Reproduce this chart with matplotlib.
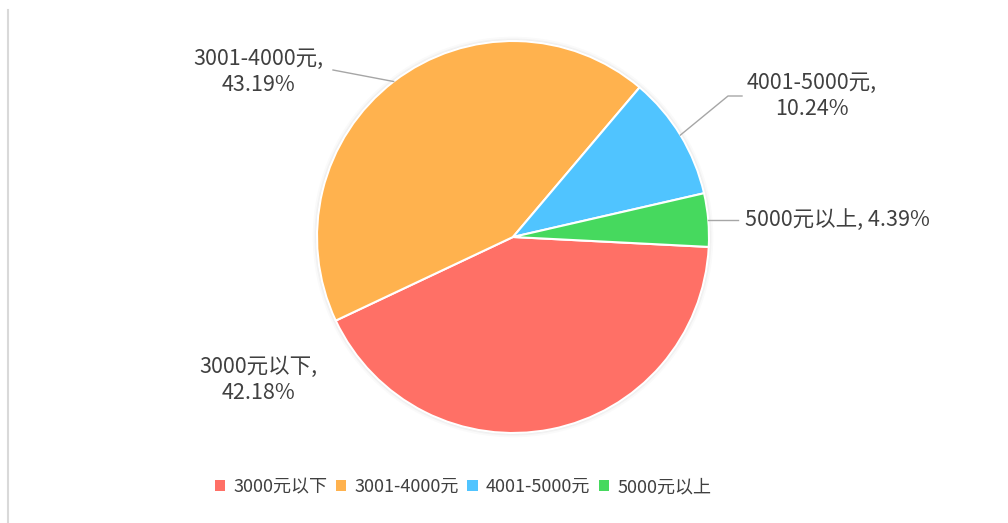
import numpy as np
import matplotlib
matplotlib.use("Agg")
import matplotlib.pyplot as plt
from matplotlib.patches import Patch, Circle
from matplotlib.lines import Line2D

plt.rcParams['font.family'] = ['Noto Sans CJK SC', 'DejaVu Sans']

categories = ['3000元以下', '3001-4000元', '4001-5000元', '5000元以上']
values = [42.18, 43.19, 10.24, 4.39]
colors = ['#FF7066', '#FFB24E', '#50C4FF', '#46D95E']
text_color = '#404040'

W, H = 1008, 523
fig = plt.figure(figsize=(W / 100, H / 100), dpi=100)
fig.patch.set_facecolor('white')

cx, cy, R = 513, 237, 196
ax = fig.add_axes([(cx - R) / W, (H - cy - R) / H, 2 * R / W, 2 * R / H])

wedges, _ = ax.pie(values, colors=colors, startangle=-2.9, counterclock=False,
                   radius=1, wedgeprops=dict(edgecolor='white', linewidth=1.5),
                   normalize=True)
ax.set_xlim(-1, 1)
ax.set_ylim(-1, 1)
ax.set_aspect('equal')
ax.axis('off')
for w in wedges:
    w.set_zorder(1)

# soft shadow
for r, a in [(1.022, 0.04), (1.013, 0.06), (1.006, 0.10)]:
    ax.add_patch(Circle((0, 0), r, facecolor='#808080', alpha=a, edgecolor='none',
                        zorder=0, clip_on=False))

def px(x, y):
    return ((x - cx) / R, (cy - y) / R)

def mid_point(w, r=1.0):
    ang = np.deg2rad((w.theta1 + w.theta2) / 2)
    return r * np.cos(ang), r * np.sin(ang)

lc = '#A6A6A6'
fs = 15.5
# 3001-4000
p0 = mid_point(wedges[1])
p1 = px(333, 70)
ax.plot([p0[0], p1[0]], [p0[1], p1[1]], color=lc, lw=1, clip_on=False)
ax.text(*px(258, 72), f'{categories[1]},\n{values[1]:.2f}%', ha='center', va='center',
        fontsize=fs, color=text_color, linespacing=1.2, clip_on=False)
# 4001-5000
p0 = mid_point(wedges[2])
p1 = px(728, 96)
p2 = px(742, 96)
ax.plot([p0[0], p1[0], p2[0]], [p0[1], p1[1], p2[1]], color=lc, lw=1, clip_on=False)
ax.text(*px(812, 96), f'{categories[2]},\n{values[2]:.2f}%', ha='center', va='center',
        fontsize=fs, color=text_color, linespacing=1.2, clip_on=False)
# 5000以上
p0 = mid_point(wedges[3])
p1 = px(738, 0)
ax.plot([p0[0], p1[0]], [p0[1], p0[1]], color=lc, lw=1, clip_on=False)
ax.text(px(745, 0)[0], p0[1], f'{categories[3]}, {values[3]:.2f}%', ha='left', va='center',
        fontsize=fs, color=text_color, clip_on=False)
# 3000以下
ax.text(*px(258, 380), f'{categories[0]},\n{values[0]:.2f}%', ha='center', va='center',
        fontsize=fs, color=text_color, linespacing=1.2, clip_on=False)

handles = [Patch(facecolor=c, edgecolor='none', label=l) for c, l in zip(colors, categories)]
leg = fig.legend(handles=handles, loc='center', bbox_to_anchor=(463 / W, 1 - 487 / H), ncol=4,
                 frameon=False, handlelength=0.6, handleheight=0.6, handletextpad=0.45,
                 columnspacing=0.45, fontsize=13)
for t in leg.get_texts():
    t.set_color(text_color)

fig.add_artist(Line2D([8 / W, 8 / W], [0, 1 - 10 / H], color='#D9D9D9', lw=1.5,
                      transform=fig.transFigure))

fig.savefig('out.png', dpi=100, facecolor='white')
